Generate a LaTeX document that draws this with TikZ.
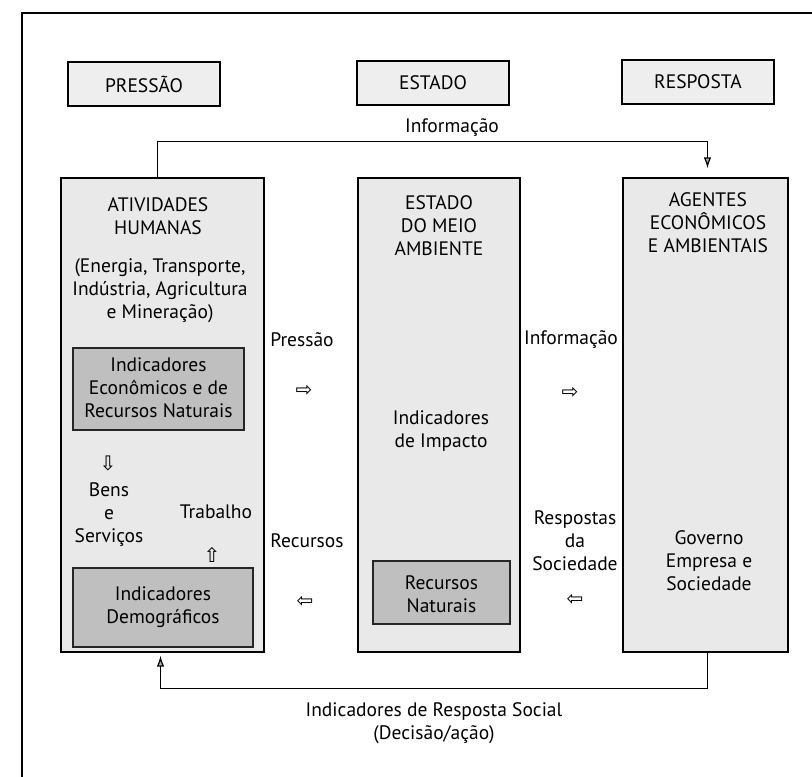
\documentclass[tikz,border=0pt]{standalone}
\usepackage{fontspec}
\setmainfont{PT Sans}
\newfontfamily\arrowfont{DejaVu Sans}
\usetikzlibrary{arrows.meta}

\definecolor{colfill}{HTML}{E9E9E9}
\definecolor{headfill}{HTML}{EEEEEE}
\definecolor{innerfill}{HTML}{BFBFBF}

\tikzset{
  txt/.style={font=\fontsize{19.5}{23}\selectfont, align=center, inner sep=0pt},
  headbox/.style={draw=black, line width=1.2pt, fill=headfill, minimum width=152pt,
    minimum height=44pt, inner sep=0pt, font=\fontsize{19.5}{22}\selectfont},
  colbox/.style={draw=black, line width=1.3pt, fill=colfill, inner sep=0pt},
  innerbox/.style={draw=black!85, line width=1.1pt, fill=innerfill, inner sep=0pt},
  sym/.style={font=\arrowfont\fontsize{20}{20}\selectfont, inner sep=0pt},
  conn/.style={draw=black, line width=1.2pt},
  tip/.style={-{Latex[length=11pt,width=7.5pt,fill=gray!60]}}
}

\begin{document}
\begin{tikzpicture}[x=1pt,y=-1pt]
\useasboundingbox (0,0) rectangle (812,777);
\fill[white] (0,0) rectangle (812,777);

% outer frame (top and left edges)
\draw[line width=1.1pt] (22,777) -- (22,13) -- (812,13);

% column headings
\node[headbox] (hP) at (144,84) {PRESSÃO};
\node[headbox] (hE) at (433,83) {ESTADO};
\node[headbox] (hR) at (698,82) {RESPOSTA};

% the three columns
\node[colbox, minimum width=203pt, minimum height=474pt] (colL) at (162.5,415) {};
\node[colbox, minimum width=162pt, minimum height=474pt] (colM) at (439,415) {};
\node[colbox, minimum width=165pt, minimum height=474pt] (colR) at (705.5,415) {};

% inner indicator boxes
\node[innerbox, minimum width=171pt, minimum height=82pt] (inEco) at (158.5,389) {};
\node[innerbox, minimum width=180pt, minimum height=79pt] (inDem) at (163,607.5) {};
\node[innerbox, minimum width=137pt, minimum height=63pt] (inRec) at (441.5,592.5) {};

% left column texts
\node[txt] (tAtiv) at (158,216) {ATIVIDADES\\HUMANAS};
\node[txt] (tEner) at (160,291) {(Energia, Transporte,\\Indústria, Agricultura\\e Mineração)};
\node[txt] (tEco) at ([yshift=1pt]inEco.center) {Indicadores\\Econômicos e de\\Recursos Naturais};
\node[sym] (aDown) at (108,463) {⇩};
\node[txt] (tBens) at (109,515) {Bens\\e\\Serviços};
\node[txt] (tTrab) at (216,512) {Trabalho};
\node[sym] (aUp) at (212,555) {⇧};
\node[txt] (tDem) at (inDem) {Indicadores\\Demográficos};

% between left and middle columns
\node[txt] (tPress) at (302,340) {Pressão};
\node[sym] (aR1) at (304,391) {⇨};
\node[txt] (tRecu) at (307,541) {Recursos};
\node[sym] (aL1) at (305,602) {⇦};

% middle column texts
\node[txt] (tEst) at (439,226) {ESTADO\\DO MEIO\\AMBIENTE};
\node[txt] (tImp) at (441,431) {Indicadores\\de Impacto};
\node[txt] (tRec) at ([yshift=-2pt]inRec.center) {Recursos\\Naturais};

% between middle and right columns
\node[txt] (tInf) at (571,340) {Informação};
\node[sym] (aR2) at (570,393) {⇨};
\node[txt] (tResp) at (575,541) {Respostas\\da\\Sociedade};
\node[sym] (aL2) at (575,600) {⇦};

% right column texts
\node[txt] (tAg) at (708,223) {AGENTES\\ECONÔMICOS\\E AMBIENTAIS};
\node[txt] (tGov) at (709,561) {Governo\\Empresa e\\Sociedade};

% information feedback loop (top)
\draw[conn, tip, shorten >=9pt] ([xshift=-5pt]colL.north) -- ++(0,-36) coordinate (topL)
  -| ([xshift=2pt]colR.north);
\node[txt] (tInfTop) at (452,128) {Informação};

% social response loop (bottom)
\draw[conn, tip, shorten >=3pt] ([xshift=2pt]colR.south) -- ++(0,36) coordinate (botR)
  -| ([xshift=-2pt]colL.south);
\node[txt] (tSoc) at (434,723) {Indicadores de Resposta Social\\(Decisão/ação)};
\end{tikzpicture}
\end{document}
